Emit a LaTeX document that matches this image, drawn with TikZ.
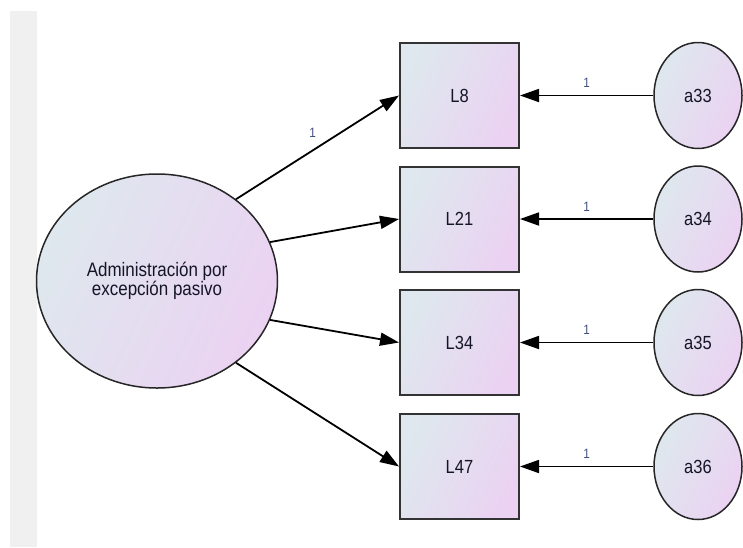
\documentclass[tikz,border=0pt]{standalone}
\usepackage{fontspec}
\setmainfont{Liberation Sans}[FakeStretch=0.87]
\usetikzlibrary{shapes.geometric,arrows.meta}
\definecolor{fillA}{HTML}{DEE8EE}
\definecolor{fillB}{HTML}{EBD2F2}
\definecolor{onecol}{HTML}{44507A}
\definecolor{txtcol}{HTML}{151528}
\definecolor{stripcol}{HTML}{F0F0F0}
\begin{document}
\begin{tikzpicture}[x=1pt,y=-1pt,
    obs/.style={rectangle,draw=black!80,line width=2pt,minimum width=119pt,minimum height=105pt,
      left color=fillA,right color=fillB,shading angle=65,inner sep=0pt,text=txtcol,font=\fontsize{19}{19}\selectfont},
    latent/.style={ellipse,draw=black!85,line width=1.5pt,inner sep=0pt,
      left color=fillA,right color=fillB,shading angle=65,text=txtcol,font=\fontsize{19.5}{19}\selectfont},
    err/.style={latent,minimum width=88pt,minimum height=106pt,font=\fontsize{19}{19}\selectfont},
    path/.style={line width=1.8pt,-{Triangle[length=19pt,width=13pt]}},
    one/.style={text=onecol,font=\fontsize{13.5}{13}\selectfont,inner sep=0pt}]
  \clip (0,0) rectangle (743,547);
  \fill[stripcol] (10,11) rectangle (37,547);
  % factor
  \node[latent,minimum width=241pt,minimum height=214pt,align=center] (apas) at (157,281) {Administración por\\excepción pasivo};
  % indicators
  \node[obs] (L8) at (459.5,95.5) {L8};
  \node[obs] (L21) at (459.5,219) {L21};
  \node[obs] (L34) at (459.5,342.5) {L34};
  \node[obs] (L47) at (459.5,466.5) {L47};
  % errors
  \node[err] (a33) at (698,95.5) {a33};
  \node[err] (a34) at (698,219) {a34};
  \node[err] (a35) at (698,342.5) {a35};
  \node[err] (a36) at (698,466.5) {a36};
  \draw[path] (apas.46) -- node[one,pos=0.47,above=12pt] {1} (L8.west);
  \draw[path] (apas.19) -- (L21.west);
  \draw[path] (apas.-19) -- (L34.west);
  \draw[path] (apas.-46) -- (L47.west);
  \draw[path] (a33) -- node[one,above=7pt] {1} (L8);
  \draw[path] (a34) -- node[one,above=7pt] {1} (L21);
  \draw[path] (a35) -- node[one,above=7pt] {1} (L34);
  \draw[path] (a36) -- node[one,above=7pt] {1} (L47);
\end{tikzpicture}
\end{document}
